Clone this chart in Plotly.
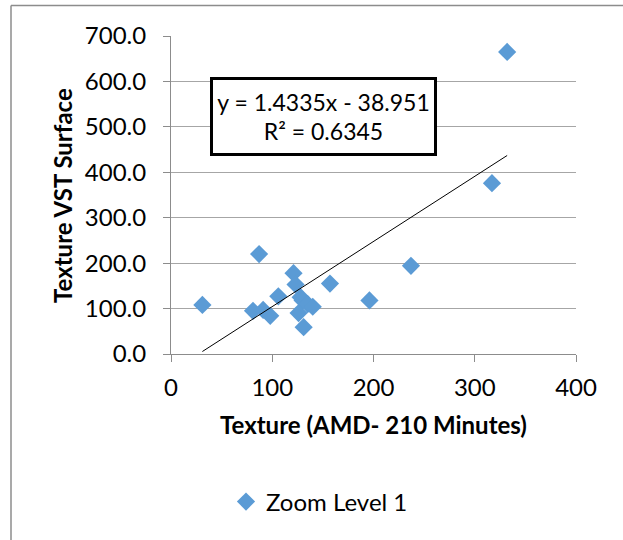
import plotly.graph_objects as go

# Data
amd_210 = [31, 81, 87, 91, 98, 106, 121, 123, 126, 128, 130, 131, 135, 140, 157, 196, 237, 317, 332]
vst_surface = [108, 95, 220, 97, 84, 127, 178, 153, 90, 125, 118, 59, 110, 104, 155, 118, 194, 376, 665]
slope = 1.4335
intercept = -38.951
r_squared = 0.6345
series_name = "Zoom Level 1"
x_ticks = [0, 100, 200, 300, 400]
y_ticks = [0, 100, 200, 300, 400, 500, 600, 700]

FONT = "Lato"
FS = 24
W, H = 623, 540
L, R, T, B = 171, 47, 36, 186

x_min, x_max = min(amd_210), max(amd_210)
trend_x = [x_min, x_max]
trend_y = [slope * v + intercept for v in trend_x]

fig = go.Figure()
fig.add_trace(go.Scatter(
    x=amd_210, y=vst_surface, mode="markers", name=series_name,
    marker=dict(symbol="diamond", size=14, color="#5B9BD5", line=dict(width=0)),
))
fig.add_trace(go.Scatter(
    x=trend_x, y=trend_y, mode="lines", showlegend=False,
    line=dict(color="black", width=1), hoverinfo="skip",
))

pw = W - L - R
ph = H - T - B

def px_x(p):
    return (p - L) / pw

def px_y(p):
    return (H - B - p) / ph

fig.update_layout(
    width=W, height=H,
    margin=dict(l=L, r=R, t=T, b=B, autoexpand=False),
    paper_bgcolor="white", plot_bgcolor="white",
    font=dict(family=FONT, size=FS, color="black"),
    showlegend=True,
    legend=dict(orientation="h", xref="container", yref="container",
                x=226 / W, y=1 - 502 / H, xanchor="left", yanchor="middle",
                font=dict(family=FONT, size=FS, color="black"),
                bgcolor="rgba(0,0,0,0)"),
    xaxis=dict(range=[0, 400], tickvals=x_ticks, showgrid=False, zeroline=False,
               showline=True, linecolor="#8C8C8C", linewidth=1,
               ticks="outside", ticklen=7, tickcolor="#8C8C8C",
               ticklabelstandoff=5,
               tickfont=dict(family=FONT, size=FS), fixedrange=True),
    yaxis=dict(range=[0, 700], tickvals=y_ticks, tickformat=".1f",
               showgrid=True, gridcolor="#A6A6A6", gridwidth=1, zeroline=False,
               showline=True, linecolor="#8C8C8C", linewidth=1,
               ticks="outside", ticklen=7, tickcolor="#8C8C8C",
               ticklabelstandoff=12,
               tickfont=dict(family=FONT, size=FS), fixedrange=True),
    annotations=[
        dict(text="<b>Texture (AMD- 210 Minutes)</b>", xref="paper", yref="paper",
             x=0.5, y=px_y(424), xanchor="center", yanchor="middle",
             showarrow=False, font=dict(family=FONT, size=FS)),
        dict(text="<b>Texture VST Surface</b>", xref="paper", yref="paper",
             x=px_x(62), y=0.5, xanchor="center", yanchor="middle", textangle=-90,
             showarrow=False, font=dict(family=FONT, size=FS)),
        dict(text=f"y = {slope}x - {abs(intercept)}<br>R² = {r_squared}",
             xref="paper", yref="paper", x=px_x(323.5), y=px_y(116.5),
             xanchor="center", yanchor="middle", showarrow=False, align="center",
             width=221, height=73, borderpad=0, bordercolor="black", borderwidth=3,
             bgcolor="white", font=dict(family=FONT, size=23)),
    ],
    shapes=[
        dict(type="line", xref="paper", yref="paper", x0=px_x(11), x1=px_x(W + 5),
             y0=px_y(5.5), y1=px_y(5.5), line=dict(color="#8C8C8C", width=1.5)),
        dict(type="line", xref="paper", yref="paper", x0=px_x(11), x1=px_x(11),
             y0=px_y(5.5), y1=px_y(H + 5), line=dict(color="#8C8C8C", width=1.5)),
    ],
)

fig.write_html("out.html")
